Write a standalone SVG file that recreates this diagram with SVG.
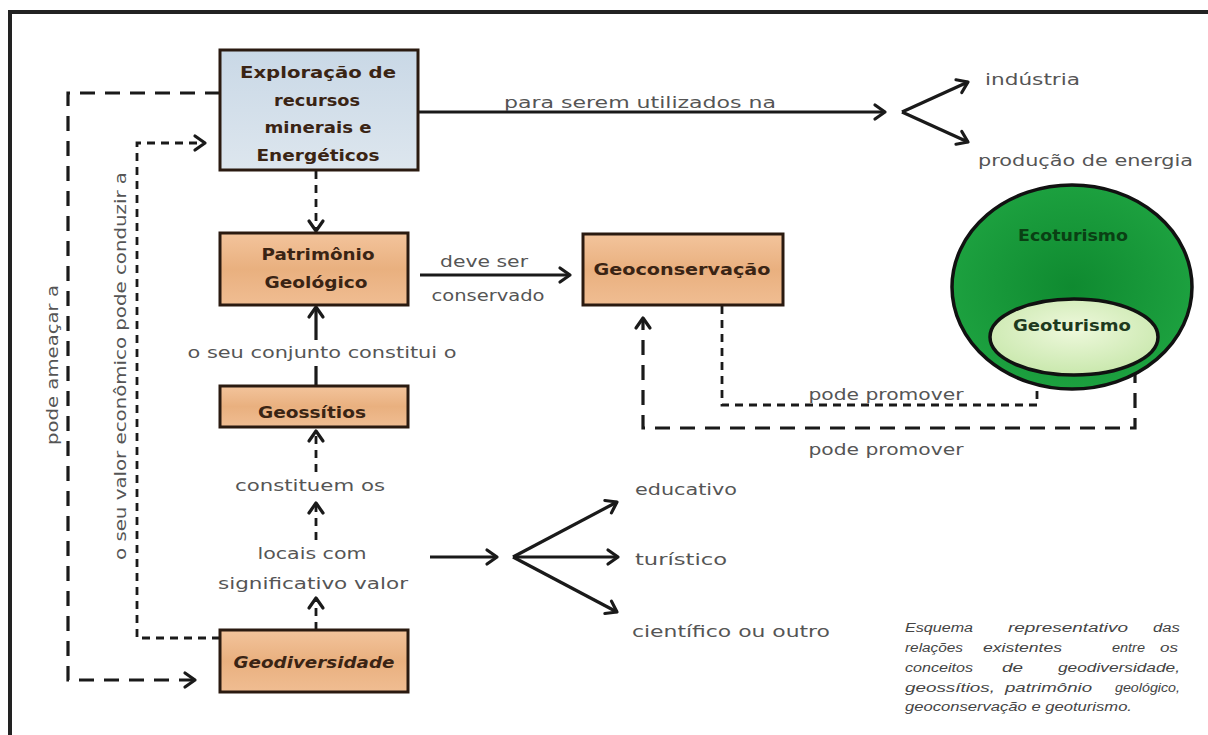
<svg xmlns="http://www.w3.org/2000/svg" width="1208" height="735" viewBox="0 0 1208 735">
<defs>
<linearGradient id="tan" x1="0" y1="0" x2="0" y2="1">
<stop offset="0" stop-color="#f3c49c"/><stop offset="0.5" stop-color="#e9b07f"/><stop offset="1" stop-color="#f0bd92"/>
</linearGradient>
<linearGradient id="blue" x1="0" y1="0" x2="0" y2="1">
<stop offset="0" stop-color="#c9d8e6"/><stop offset="1" stop-color="#dde6ee"/>
</linearGradient>
<radialGradient id="green" cx="0.5" cy="0.5" r="0.6">
<stop offset="0" stop-color="#0f8a30"/><stop offset="1" stop-color="#1fa542"/>
</radialGradient>
<radialGradient id="lgreen" cx="0.5" cy="0.4" r="0.6">
<stop offset="0" stop-color="#eef8dc"/><stop offset="1" stop-color="#c9e8ad"/>
</radialGradient>
<marker id="ah" markerUnits="userSpaceOnUse" markerWidth="20" markerHeight="20" viewBox="0 0 20 20" refX="17" refY="10" orient="auto">
<path d="M7,3 L17,10 L7,17" fill="none" stroke="#1a1a1a" stroke-width="3.2" stroke-linecap="round" stroke-linejoin="round"/>
</marker>
</defs>
<style>
.box{stroke:#2a1a10;stroke-width:3}
.bt{font-family:"DejaVu Sans",sans-serif;font-weight:bold;font-size:15px;fill:#3a2414;text-anchor:middle}
.lbl{font-family:"DejaVu Sans",sans-serif;font-size:16px;fill:#555;text-anchor:middle}
.lbs{font-family:"DejaVu Sans",sans-serif;font-size:16px;fill:#555}
.sol{fill:none;stroke:#1a1a1a;stroke-width:3.2}
.dsh{fill:none;stroke:#1a1a1a;stroke-width:3.2;stroke-dasharray:15 10}
.dsm{fill:none;stroke:#1a1a1a;stroke-width:2.8;stroke-dasharray:8 6}
.cap{font-family:"Liberation Sans",sans-serif;font-style:italic;font-size:12px;fill:#444}
</style>
<rect width="1208" height="735" fill="#ffffff"/>
<rect x="10" y="12" width="1260" height="780" fill="none" stroke="#222" stroke-width="4"/>

<g id="connectors">
<path class="sol" d="M418,112 H885" marker-end="url(#ah)"/>
<path class="sol" d="M902,112 L968,82" marker-end="url(#ah)"/>
<path class="sol" d="M902,112 L968,142" marker-end="url(#ah)"/>
<path class="dsm" d="M316,171 V231" marker-end="url(#ah)"/>
<path class="sol" d="M420,275 H570" marker-end="url(#ah)"/>
<path class="sol" d="M316,340 V307" marker-end="url(#ah)"/>
<path class="sol" d="M316,366 V385"/>
<path class="dsm" d="M316,472 V431" marker-end="url(#ah)"/>
<path class="dsm" d="M316,540 V503" marker-end="url(#ah)"/>
<path class="dsm" d="M316,630 V598" marker-end="url(#ah)"/>
<path class="dsh" d="M220,93 H68 V680 H195" marker-end="url(#ah)"/>
<path class="dsm" d="M220,638 H137 V143 H205" marker-end="url(#ah)"/>
<path class="sol" d="M430,557 H497" marker-end="url(#ah)"/>
<path class="sol" d="M513,557 L617,502" marker-end="url(#ah)"/>
<path class="sol" d="M513,557 H618" marker-end="url(#ah)"/>
<path class="sol" d="M513,557 L617,612" marker-end="url(#ah)"/>
<path class="dsm" d="M722,306 V405 H1037 V371" marker-end="url(#ah)"/>
<path class="dsh" d="M1135,368 V428 H643 V318" marker-end="url(#ah)"/>
</g>

<g id="labels">
<text class="lbl" x="640" y="108" textLength="272" lengthAdjust="spacingAndGlyphs">para serem utilizados na</text>
<text class="lbs" x="985" y="85" textLength="95" lengthAdjust="spacingAndGlyphs">indústria</text>
<text class="lbs" x="978" y="166" textLength="215" lengthAdjust="spacingAndGlyphs">produção de energia</text>
<text class="lbl" x="484" y="267" textLength="88" lengthAdjust="spacingAndGlyphs">deve ser</text>
<text class="lbl" x="488" y="301" textLength="113" lengthAdjust="spacingAndGlyphs">conservado</text>
<text class="lbl" x="322" y="358" textLength="269" lengthAdjust="spacingAndGlyphs">o seu conjunto constitui o</text>
<text class="lbl" x="310" y="491" textLength="150" lengthAdjust="spacingAndGlyphs">constituem os</text>
<text class="lbl" x="312" y="559" textLength="109" lengthAdjust="spacingAndGlyphs">locais com</text>
<text class="lbl" x="313" y="589" textLength="190" lengthAdjust="spacingAndGlyphs">significativo valor</text>
<text class="lbs" x="635" y="495" textLength="102" lengthAdjust="spacingAndGlyphs">educativo</text>
<text class="lbs" x="635" y="565" textLength="92" lengthAdjust="spacingAndGlyphs">turístico</text>
<text class="lbs" x="632" y="637" textLength="198" lengthAdjust="spacingAndGlyphs">científico ou outro</text>
<text class="lbl" x="886" y="400" textLength="155" lengthAdjust="spacingAndGlyphs">pode promover</text>
<text class="lbl" x="886" y="455" textLength="155" lengthAdjust="spacingAndGlyphs">pode promover</text>
<text class="lbl" transform="translate(58,365) rotate(-90)" textLength="160" lengthAdjust="spacingAndGlyphs">pode ameaçar a</text>
<text class="lbl" transform="translate(126,366) rotate(-90)" textLength="388" lengthAdjust="spacingAndGlyphs">o seu valor econômico pode conduzir a</text>
</g>

<g id="node-exploracao">
<rect class="box" x="220" y="50" width="198" height="120" fill="url(#blue)"/>
<text class="bt" x="318" y="78" textLength="156" lengthAdjust="spacingAndGlyphs">Exploração de</text>
<text class="bt" x="317" y="106" textLength="86" lengthAdjust="spacingAndGlyphs">recursos</text>
<text class="bt" x="318" y="133" textLength="107" lengthAdjust="spacingAndGlyphs">minerais e</text>
<text class="bt" x="318" y="161" textLength="123" lengthAdjust="spacingAndGlyphs">Energéticos</text>
</g>

<g id="node-patrimonio">
<rect class="box" x="220" y="233" width="188" height="72" fill="url(#tan)"/>
<text class="bt" x="318" y="260" textLength="113" lengthAdjust="spacingAndGlyphs">Patrimônio</text>
<text class="bt" x="316" y="288" textLength="103" lengthAdjust="spacingAndGlyphs">Geológico</text>
</g>

<g id="node-geoconservacao">
<rect class="box" x="583" y="234" width="200" height="71" fill="url(#tan)"/>
<text class="bt" x="682" y="275" textLength="177" lengthAdjust="spacingAndGlyphs">Geoconservação</text>
</g>

<g id="node-geossitios">
<rect class="box" x="220" y="386" width="188" height="41" fill="url(#tan)"/>
<text class="bt" x="312" y="418" textLength="108" lengthAdjust="spacingAndGlyphs">Geossítios</text>
</g>

<g id="node-geodiversidade">
<rect class="box" x="220" y="630" width="188" height="62" fill="url(#tan)"/>
<text class="bt" x="314" y="668" font-style="italic" textLength="161" lengthAdjust="spacingAndGlyphs">Geodiversidade</text>
</g>

<g id="node-ecoturismo">
<ellipse cx="1072" cy="287" rx="120" ry="102" fill="url(#green)" stroke="#111" stroke-width="3.5"/>
<text class="bt" x="1073" y="241" style="fill:#0a4014" textLength="110" lengthAdjust="spacingAndGlyphs">Ecoturismo</text>
</g>

<g id="node-geoturismo">
<ellipse cx="1074" cy="337" rx="84" ry="38" fill="url(#lgreen)" stroke="#111" stroke-width="3.5"/>
<text class="bt" x="1072" y="331" style="fill:#1e3a1e" textLength="118" lengthAdjust="spacingAndGlyphs">Geoturismo</text>
</g>

<g id="caption">
<text class="cap" x="905" y="632" textLength="68" lengthAdjust="spacingAndGlyphs">Esquema</text>
<text class="cap" x="1008" y="632" textLength="120" lengthAdjust="spacingAndGlyphs">representativo</text>
<text class="cap" x="1153" y="632" textLength="27" lengthAdjust="spacingAndGlyphs">das</text>
<text class="cap" x="905" y="652" textLength="58" lengthAdjust="spacingAndGlyphs">relações</text>
<text class="cap" x="983" y="652" textLength="79" lengthAdjust="spacingAndGlyphs">existentes</text>
<text class="cap" x="1112" y="652" textLength="33" lengthAdjust="spacingAndGlyphs">entre</text>
<text class="cap" x="1160" y="652" textLength="18" lengthAdjust="spacingAndGlyphs">os</text>
<text class="cap" x="905" y="672" textLength="68" lengthAdjust="spacingAndGlyphs">conceitos</text>
<text class="cap" x="1002" y="672" textLength="21" lengthAdjust="spacingAndGlyphs">de</text>
<text class="cap" x="1058" y="672" textLength="122" lengthAdjust="spacingAndGlyphs">geodiversidade,</text>
<text class="cap" x="905" y="692" textLength="90" lengthAdjust="spacingAndGlyphs">geossítios,</text>
<text class="cap" x="1005" y="692" textLength="87" lengthAdjust="spacingAndGlyphs">patrimônio</text>
<text class="cap" x="1115" y="692" textLength="65" lengthAdjust="spacingAndGlyphs">geológico,</text>
<text class="cap" x="905" y="711" textLength="227" lengthAdjust="spacingAndGlyphs">geoconservação e geoturismo.</text>
</g>
</svg>
